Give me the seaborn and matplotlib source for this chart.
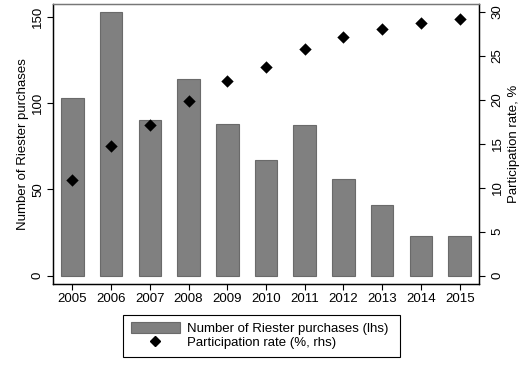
import numpy as np
import pandas as pd
import matplotlib
matplotlib.use("Agg")
import matplotlib.pyplot as plt
import seaborn as sns
from matplotlib.patches import Patch, Rectangle
from matplotlib.lines import Line2D

# --- DATA ---
YEARS = ['2005', '2006', '2007', '2008', '2009', '2010',
         '2011', '2012', '2013', '2014', '2015']
PURCHASES = [103, 153, 90, 114, 88, 67, 87, 56, 41, 23, 23]
PARTICIPATION = [10.9, 14.8, 17.1, 19.9, 22.1, 23.7, 25.8, 27.2, 28.1, 28.7, 29.2]

LEFT_TICKS = [0, 50, 100, 150]
RIGHT_TICKS = [0, 5, 10, 15, 20, 25, 30]

BAR_COLOR = '#808080'
BAR_EDGE = '#6a6a6a'
FS = 9.5


def make_chart():
    sns.set_style("white")
    plt.rcParams['font.family'] = ['Liberation Sans', 'DejaVu Sans']
    plt.rcParams.update({'text.color': 'black', 'axes.labelcolor': 'black',
                         'xtick.color': 'black', 'ytick.color': 'black'})

    df = pd.DataFrame({'year': YEARS, 'purchases': PURCHASES,
                       'rate': PARTICIPATION})

    fig = plt.figure(figsize=(5.32, 3.72), dpi=100)
    ax = fig.add_axes([0.0996, 0.2374, 0.8008, 0.7516])

    # bars on the left axis
    sns.barplot(data=df, x='year', y='purchases', color=BAR_COLOR,
                saturation=1, width=0.58, edgecolor=BAR_EDGE, linewidth=0.8,
                ax=ax)
    ax.set_ylim(-4.7, 157.3)
    ax.set_yticks(LEFT_TICKS)
    ax.set_ylabel('Number of Riester purchases', fontsize=FS, labelpad=2)
    ax.set_xlabel('')

    # diamonds on the right axis
    ax2 = ax.twinx()
    sns.stripplot(data=df, x='year', y='rate', jitter=False, marker='D',
                  color='black', size=6.3, linewidth=0, ax=ax2)
    ax2.set_ylim(-0.93, 30.9)
    ax2.set_yticks(RIGHT_TICKS)
    ax2.set_ylabel('Participation rate, %', fontsize=FS, labelpad=3)
    ax2.set_xlim(-0.5, 10.5)
    ax.set_xlim(-0.5, 10.5)

    # Stata-like frame
    for a in (ax, ax2):
        for side in ('left', 'right', 'bottom'):
            a.spines[side].set_color('black')
            a.spines[side].set_linewidth(0.9)
        a.spines['top'].set_color('#777777')
        a.spines['top'].set_linewidth(0.9)
        a.tick_params(axis='both', direction='out', length=4, width=0.8,
                      color='black', labelsize=FS, pad=2.5)
    ax.tick_params(axis='y', left=True)
    ax2.tick_params(axis='y', right=True, pad=5)
    ax.tick_params(axis='x', bottom=True)
    for lab in ax.get_yticklabels() + ax2.get_yticklabels():
        lab.set_rotation(90)
        lab.set_va('center')

    # legend below the plot, with a plain square frame
    handles = [
        Patch(facecolor=BAR_COLOR, edgecolor=BAR_EDGE, linewidth=0.8),
        Line2D([], [], marker='D', color='black', linestyle='none',
               markersize=5.3),
    ]
    labels = ['Number of Riester purchases (lhs)', 'Participation rate (%, rhs)']
    fig.legend(handles, labels, loc='upper left',
               bbox_to_anchor=(131 / 532, 1 - 322 / 372), fontsize=FS,
               frameon=False, handlelength=3.7, handleheight=0.88,
               handletextpad=0.53, labelspacing=0.06, borderpad=0,
               borderaxespad=0)
    fig.add_artist(Rectangle((123 / 532, 1 - 357 / 372), 277 / 532, 42 / 372,
                             transform=fig.transFigure, fill=False,
                             edgecolor='black', linewidth=0.8))

    fig.savefig('out.png', dpi=100)
    plt.close(fig)


def main():
    make_chart()


if __name__ == "__main__":
    main()
